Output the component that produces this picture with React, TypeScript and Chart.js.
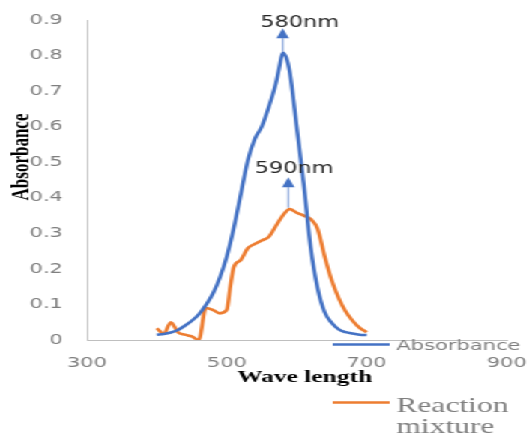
import React, { useEffect, useRef } from "react";
import { Chart, registerables } from "chart.js";

Chart.register(...registerables);

// ---- data ----
const blueWavelengths = [400, 410, 420, 430, 440, 450, 460, 470, 480, 490, 500, 510, 520, 530, 540, 550, 560, 570, 575, 580, 585, 590, 600, 610, 620, 630, 640, 650, 660, 670, 680, 690, 700];
const blueAbsorbance = [0.015, 0.017, 0.021, 0.028, 0.04, 0.054, 0.072, 0.098, 0.13, 0.175, 0.235, 0.315, 0.41, 0.505, 0.565, 0.6, 0.655, 0.72, 0.765, 0.808, 0.795, 0.755, 0.6, 0.44, 0.26, 0.145, 0.078, 0.048, 0.03, 0.022, 0.018, 0.015, 0.014];

const orangeWavelengths = [400, 410, 420, 430, 440, 450, 460, 470, 480, 490, 500, 505, 510, 520, 530, 540, 550, 560, 570, 580, 590, 600, 610, 620, 630, 640, 650, 660, 670, 680, 690, 700];
const orangeAbsorbance = [0.033, 0.018, 0.05, 0.022, 0.015, 0.01, 0.0, 0.09, 0.085, 0.075, 0.085, 0.15, 0.205, 0.225, 0.258, 0.27, 0.28, 0.29, 0.32, 0.35, 0.368, 0.358, 0.35, 0.34, 0.312, 0.235, 0.168, 0.118, 0.08, 0.054, 0.034, 0.022];

const xTicks = [300, 500, 700, 900];
const seriesNames = ["Absorbance", "Reaction mixture"];
const peakLabels = ["580nm", "590nm"];
const peakWavelengths = [580, 588];

const BLUE = "#4472C4";
const ORANGE = "#ED7D31";
const STRETCH_W = 353;
const FULL_W = 529;
const FULL_H = 434;

const overlayPlugin = {
  id: "overlay",
  afterDraw(chart: any) {
    const ctx = chart.ctx as CanvasRenderingContext2D;
    const xs = chart.scales.x;
    const ys = chart.scales.y;
    ctx.save();

    // arrows
    const arrows = [
      { x: xs.getPixelForValue(peakWavelengths[0]), yBottom: ys.getPixelForValue(0.81), yTip: ys.getPixelForValue(0.877), label: peakLabels[0], dx: -15, baseY: 27 },
      { x: xs.getPixelForValue(peakWavelengths[1]), yBottom: ys.getPixelForValue(0.372), yTip: ys.getPixelForValue(0.458), label: peakLabels[1], dx: -22.5, baseY: 173 },
    ];
    for (const a of arrows) {
      const headH = 10;
      ctx.strokeStyle = "#8FAADC";
      ctx.lineWidth = 1.3;
      ctx.beginPath();
      ctx.moveTo(a.x, a.yBottom);
      ctx.lineTo(a.x, a.yTip + headH);
      ctx.stroke();
      ctx.fillStyle = BLUE;
      ctx.beginPath();
      ctx.moveTo(a.x, a.yTip);
      ctx.lineTo(a.x - 4.2, a.yTip + headH);
      ctx.lineTo(a.x + 4.2, a.yTip + headH);
      ctx.closePath();
      ctx.fill();
      ctx.fillStyle = "#262626";
      ctx.font = "15px 'DejaVu Sans'";
      ctx.textAlign = "left";
      ctx.textBaseline = "alphabetic";
      ctx.fillText(a.label, a.x + a.dx, a.baseY);
    }

    // axis titles
    ctx.fillStyle = "#000000";
    ctx.font = "bold 17px 'Liberation Serif'";
    ctx.textAlign = "center";
    ctx.textBaseline = "alphabetic";
    ctx.fillText("Wave length", 203.3, 382);

    ctx.save();
    ctx.translate(18.7, 157);
    ctx.rotate(-Math.PI / 2);
    ctx.fillText("Absorbance", 0, 0);
    ctx.restore();

    // legend
    ctx.lineWidth = 2.6;
    ctx.lineCap = "butt";
    ctx.strokeStyle = BLUE;
    ctx.beginPath();
    ctx.moveTo(222, 344.5);
    ctx.lineTo(260, 344.5);
    ctx.stroke();
    ctx.strokeStyle = ORANGE;
    ctx.beginPath();
    ctx.moveTo(222, 402.5);
    ctx.lineTo(260, 402.5);
    ctx.stroke();

    ctx.fillStyle = "#7F7F7F";
    ctx.textAlign = "left";
    ctx.font = "14px 'DejaVu Sans'";
    ctx.fillText(seriesNames[0], 264.5, 350);
    ctx.font = "21px 'Liberation Serif'";
    const parts = seriesNames[1].split(" ");
    ctx.fillText(parts[0], 264.5, 411.5);
    ctx.fillText(parts[1], 264.5, 433);

    ctx.restore();
  },
};

export default function App() {
  const canvasRef = useRef<HTMLCanvasElement | null>(null);

  useEffect(() => {
    document.body.style.margin = "0";
    const canvas = canvasRef.current;
    if (!canvas) return;
    const chart = new Chart(canvas, {
      type: "line",
      data: {
        datasets: [
          {
            label: seriesNames[0],
            data: blueWavelengths.map((w, i) => ({ x: w, y: blueAbsorbance[i] })),
            borderColor: BLUE,
            backgroundColor: BLUE,
            borderWidth: 2.6,
            pointRadius: 0,
            cubicInterpolationMode: "monotone",
            fill: false,
          },
          {
            label: seriesNames[1],
            data: orangeWavelengths.map((w, i) => ({ x: w, y: orangeAbsorbance[i] })),
            borderColor: ORANGE,
            backgroundColor: ORANGE,
            borderWidth: 2.6,
            pointRadius: 0,
            cubicInterpolationMode: "monotone",
            fill: false,
          },
        ],
      },
      options: {
        animation: false,
        responsive: false,
        maintainAspectRatio: false,
        devicePixelRatio: 1,
        layout: { padding: { left: 0, top: 20, right: STRETCH_W - 338, bottom: 0 } },
        plugins: {
          legend: { display: false },
          tooltip: { enabled: false },
          title: { display: false },
        },
        scales: {
          x: {
            type: "linear",
            min: 300,
            max: 900,
            afterBuildTicks: (scale: any) => {
              scale.ticks = xTicks.map((v) => ({ value: v }));
            },
            afterFit: (scale: any) => {
              scale.height = FULL_H - 340;
              scale.paddingLeft = 0;
              scale.paddingRight = 0;
            },
            grid: { display: false, drawTicks: false },
            border: { display: true, color: "#BFBFBF", width: 1 },
            ticks: {
              padding: 15,
              color: "#7F7F7F",
              font: { family: "'DejaVu Sans'", size: 14 },
              maxRotation: 0,
            },
          },
          y: {
            type: "linear",
            min: 0,
            max: 0.9,
            afterFit: (scale: any) => {
              scale.width = 58;
              scale.paddingTop = 0;
              scale.paddingBottom = 0;
            },
            grid: { display: false, drawTicks: false },
            border: { display: true, color: "#BFBFBF", width: 1 },
            ticks: {
              stepSize: 0.1,
              padding: 16,
              color: "#7F7F7F",
              font: { family: "'DejaVu Sans'", size: 14 },
            },
          },
        },
      },
      plugins: [overlayPlugin],
    } as any);
    return () => chart.destroy();
  }, []);

  return (
    <div
      style={{
        position: "absolute",
        left: 0,
        top: 0,
        width: STRETCH_W,
        height: FULL_H,
        transform: `scaleX(${FULL_W / STRETCH_W})`,
        transformOrigin: "0 0",
        background: "#ffffff",
      }}
    >
      <canvas ref={canvasRef} width={STRETCH_W} height={FULL_H} style={{ width: STRETCH_W, height: FULL_H, display: "block" }} />
    </div>
  );
}
